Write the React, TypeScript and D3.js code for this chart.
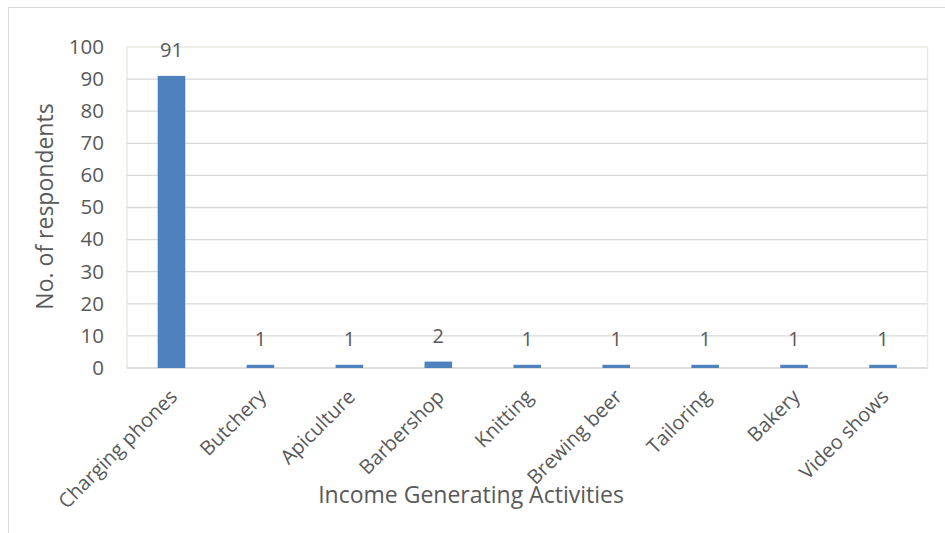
import React from "react";
import * as d3 from "d3";

const categories = [
  "Charging phones",
  "Butchery",
  "Apiculture",
  "Barbershop",
  "Knitting",
  "Brewing beer",
  "Tailoring",
  "Bakery",
  "Video shows",
];
const values = [91, 1, 1, 2, 1, 1, 1, 1, 1];
const yTicks = [0, 10, 20, 30, 40, 50, 60, 70, 80, 90, 100];
const yTitle = "No. of respondents";
const xTitle = "Income Generating Activities";

const W = 945;
const H = 533;
const plot = { left: 127, right: 927.5, top: 47, bottom: 368 };
const FONT = "'Open Sans', sans-serif";
const TEXT = "#595959";

export default function App() {
  const x = d3
    .scaleBand<string>()
    .domain(categories)
    .range([plot.left, plot.right])
    .paddingInner(0.69)
    .paddingOuter(0.345);
  const y = d3.scaleLinear().domain([0, 100]).range([plot.bottom, plot.top]);

  return (
    <svg
      width={W}
      height={H}
      style={{ position: "absolute", left: 0, top: 0, background: "#fff" }}
    >
      <line x1={8} x2={W} y1={7.5} y2={7.5} stroke="#d9d9d9" />
      <line x1={8.5} x2={8.5} y1={7} y2={H} stroke="#d9d9d9" />
      <rect
        x={plot.left}
        y={plot.top}
        width={plot.right - plot.left}
        height={plot.bottom - plot.top}
        fill="none"
        stroke="#ECEAE0"
        strokeWidth={1.5}
      />
      {yTicks.map((t) => (
        <g key={t}>
          {t > 0 && t < 100 && (
            <line
              x1={plot.left}
              x2={plot.right}
              y1={y(t)}
              y2={y(t)}
              stroke="#d9d9d9"
              strokeWidth={1.3}
            />
          )}
          <text
            x={104}
            y={y(t) + 6.8}
            textAnchor="end"
            fontFamily={FONT}
            fontSize={20.5}
            fill={TEXT}
          >
            {t}
          </text>
        </g>
      ))}
      <line
        x1={plot.left}
        x2={plot.right}
        y1={plot.bottom}
        y2={plot.bottom}
        stroke="#d9d9d9"
        strokeWidth={1.5}
      />
      {categories.map((c, i) => {
        const bx = x(c)!;
        const cx = bx + x.bandwidth() / 2;
        return (
          <g key={c}>
            <rect
              x={bx}
              y={y(values[i])}
              width={x.bandwidth()}
              height={plot.bottom - y(values[i])}
              fill="#4F81BD"
            />
            <text
              x={cx}
              y={y(values[i]) - 19}
              textAnchor="middle"
              fontFamily={FONT}
              fontSize={20}
              fill={TEXT}
            >
              {values[i]}
            </text>
            <text
              transform={`translate(${cx + 7},${plot.bottom + 30}) rotate(-45)`}
              textAnchor="end"
              fontFamily={FONT}
              fontSize={20}
              fill={TEXT}
            >
              {c}
            </text>
          </g>
        );
      })}
      <text
        transform={`translate(53,206.5) rotate(-90)`}
        textAnchor="middle"
        fontFamily={FONT}
        fontSize={23}
        fill={TEXT}
      >
        {yTitle}
      </text>
      <text
        x={471}
        y={503}
        textAnchor="middle"
        fontFamily={FONT}
        fontSize={23}
        fill={TEXT}
      >
        {xTitle}
      </text>
    </svg>
  );
}
